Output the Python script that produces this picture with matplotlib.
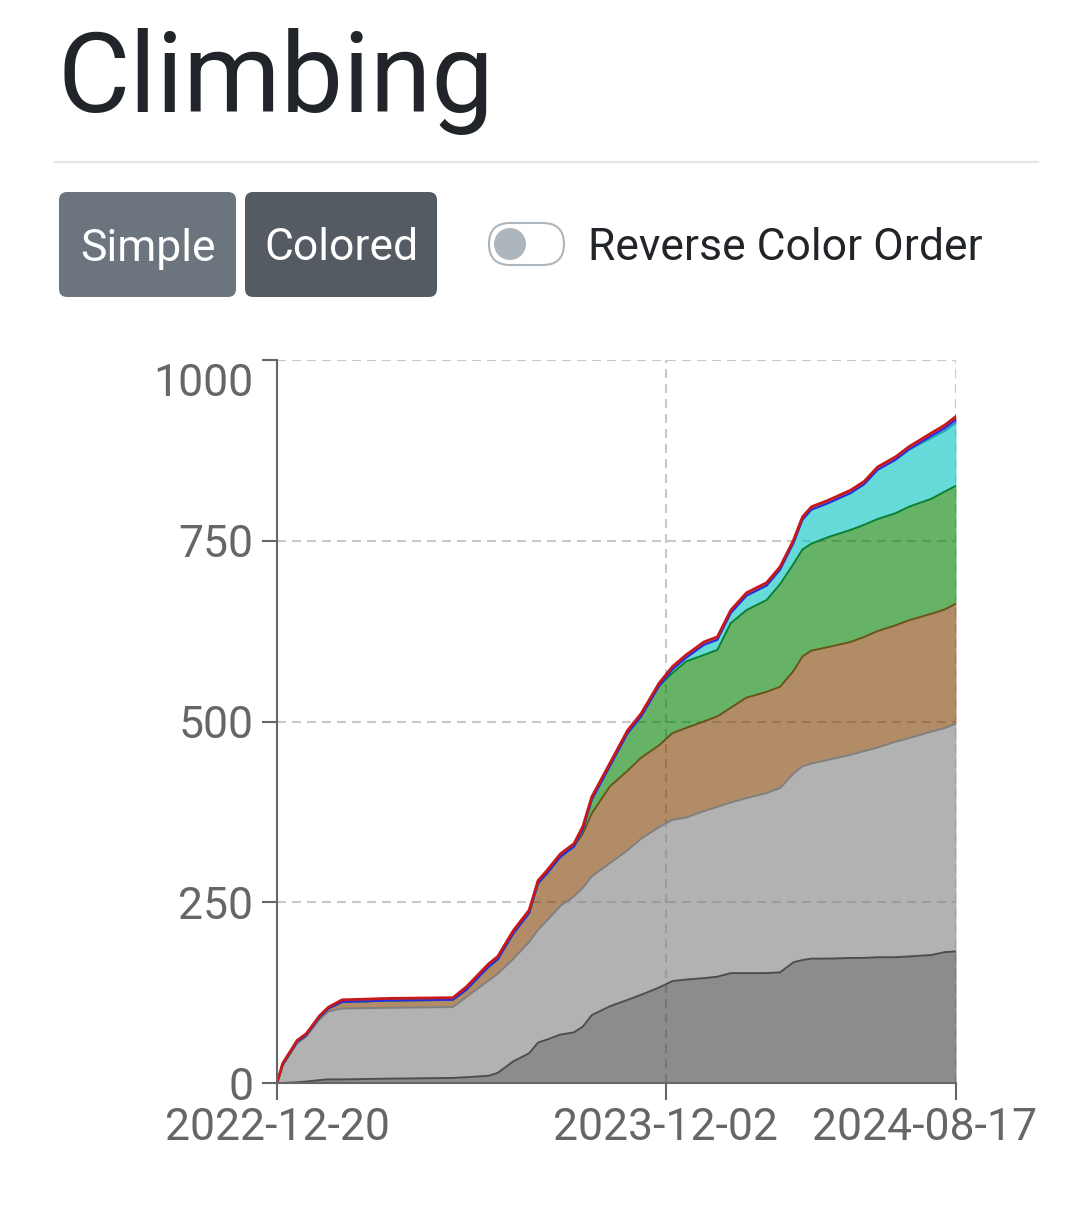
import numpy as np
import pandas as pd
import matplotlib
matplotlib.use("Agg")
import matplotlib.pyplot as plt
import matplotlib.dates as mdates
import matplotlib.transforms as mtransforms
from matplotlib.patches import FancyBboxPatch, Ellipse

plt.rcParams['font.family'] = ['Roboto', 'DejaVu Sans']

# ---------------- data (cumulative counts per layer) ----------------
start_date = "2022-12-20"
end_date = "2024-08-17"
day_offsets = [0, 5, 18, 26, 38, 46, 58, 100, 157, 169,
               189, 197, 211, 225, 233, 241, 253, 265, 273, 281,
               297, 313, 325, 341, 353, 365, 381, 393, 405, 419,
               437, 449, 461, 469, 477, 492, 512, 524, 536, 552,
               564, 584, 596, 606]
dark_gray = [0, 0, 1, 2, 4, 5, 5, 6, 7, 8,
             10, 14, 30, 41, 56, 60, 67, 70, 78, 94,
             106, 115, 122, 132, 141, 143, 145, 147, 152, 152,
             152, 153, 167, 170, 172, 172, 173, 173, 174, 174,
             175, 177, 181, 182]
light_gray = [0, 24, 54, 62, 84, 94, 98, 98, 98, 111,
              132, 137, 142, 154, 156, 165, 178, 188, 192, 192,
              198, 207, 216, 222, 223, 224, 231, 235, 236, 242,
              249, 255, 261, 268, 270, 275, 281, 286, 290, 298,
              302, 309, 310, 315]
brown = [0, 1, 2, 2, 3, 4, 9, 10, 10, 10,
         19, 20, 35, 40, 64, 65, 68, 69, 75, 87,
         106, 110, 112, 113, 120, 124, 124, 125, 131, 139,
         140, 140, 142, 152, 156, 156, 156, 158, 161, 161,
         163, 163, 164, 166]
green = [0, 0, 0, 0, 0, 0, 0, 0, 0, 0,
         0, 0, 0, 0, 0, 0, 0, 0, 6, 19,
         28, 52, 57, 82, 83, 92, 92, 92, 117, 121,
         127, 142, 148, 148, 148, 152, 155, 155, 155, 155,
         157, 159, 163, 163]
cyan = [0, 0, 0, 0, 0, 0, 0, 0, 0, 0,
        0, 0, 0, 0, 0, 0, 0, 0, 0, 0,
        0, 0, 0, 0, 5, 5, 14, 14, 14, 20,
        20, 20, 29, 41, 47, 47, 51, 56, 68, 74,
        79, 84, 84, 87]
blue = [0] * 41 + [3, 4, 5]
red = [0, 2, 2, 2, 2, 2, 3, 3, 3, 4,
       4, 4, 4, 4, 4, 4, 4, 4, 4, 4,
       4, 4, 4, 4, 4, 4, 4, 4, 4, 4,
       4, 4, 4, 4, 4, 4, 4, 4, 4, 4,
       4, 4, 4, 4]

x_tick_labels = ["2022-12-20", "2023-12-02", "2024-08-17"]
y_ticks = [0, 250, 500, 750, 1000]

title_text = "Climbing"
button_labels = ["Simple", "Colored"]
toggle_label = "Reverse Color Order"

# ---------------- figure ----------------
W, H = 1080, 1213
fig = plt.figure(figsize=(W / 100, H / 100), dpi=100)
fig.patch.set_facecolor('white')


def fx(px):
    return px / W


def fy(py):
    return 1 - py / H


# header
fig.text(fx(57), fy(112), title_text, fontsize=80, color='#212529',
         ha='left', va='baseline')
fig.add_artist(plt.Line2D([fx(55), fx(1038)], [fy(162), fy(162)],
                          color='#e3e5e8', lw=1.6, transform=fig.transFigure))

# buttons
btns = [(59, 236, '#6c757d'), (245, 437, '#545b62')]
for (x0, x1, col), lab in zip(btns, button_labels):
    p = FancyBboxPatch((fx(x0), fy(297)), fx(x1 - x0), fy(192) - fy(297),
                       boxstyle="round,pad=0,rounding_size=0.0075",
                       transform=fig.transFigure, facecolor=col, edgecolor='none',
                       mutation_aspect=W / H)
    fig.add_artist(p)
    fig.text(fx((x0 + x1) / 2), fy(244), lab, fontsize=32, color='white',
             ha='center', va='center_baseline')

# toggle switch
tog = FancyBboxPatch((fx(489), fy(265)), fx(75), fy(223) - fy(265),
                     boxstyle="round,pad=0,rounding_size=0.0195",
                     transform=fig.transFigure, facecolor='white',
                     edgecolor='#adb5bd', lw=1.5, mutation_aspect=W / H)
fig.add_artist(tog)
knob = Ellipse((fx(510), fy(244)), fx(32), fy(212) - fy(244),
               transform=fig.transFigure, facecolor='#adb5bd', edgecolor='none')
fig.add_artist(knob)
fig.text(fx(588), fy(244), toggle_label, fontsize=32, color='#212529',
         ha='left', va='center_baseline')

# ---------------- chart ----------------
ax = fig.add_axes([fx(277), fy(1083), fx(956) - fx(277), fy(360) - fy(1083)])
ax.set_facecolor('white')

t0 = pd.Timestamp(start_date)
dates = [t0 + pd.Timedelta(days=d) for d in day_offsets]
xnum = mdates.date2num(dates)

layers = [dark_gray, light_gray, brown, green, cyan, blue, red]
fill_rgb = [(64, 64, 64), (128, 128, 128), (128, 64, 0), (0, 128, 0),
            (0, 192, 192), (0, 0, 255), (255, 0, 0)]
line_cols = ['#4d4d4d', '#808080', '#6a5416', '#0a7f30',
             '#1bb0b0', '#2a2ae0', '#c81818']
line_w = [1.4, 1.4, 1.4, 1.4, 1.4, 1.4, 2.0]

base = np.zeros(len(day_offsets))
tops = []
for vals in layers:
    top = base + np.asarray(vals, dtype=float)
    tops.append((base.copy(), top))
    base = top

for (lo, hi), rgb in zip(tops, fill_rgb):
    ax.fill_between(xnum, lo, hi, color=tuple(c / 255 for c in rgb),
                    alpha=0.6, linewidth=0, zorder=2)
for (lo, hi), lc, lw in zip(tops, line_cols, line_w):
    ax.plot(xnum, hi, color=lc, lw=lw, zorder=3, solid_joinstyle='round')

xt = mdates.date2num([pd.Timestamp(s) for s in x_tick_labels])
ax.set_xlim(mdates.date2num(pd.Timestamp(start_date)), mdates.date2num(pd.Timestamp(end_date)))
ax.set_ylim(0, 1000)
ax.set_xticks(xt)
ax.set_xticklabels(x_tick_labels)
ax.set_yticks(y_ticks)
ax.set_yticklabels([str(v) for v in y_ticks])

ax.set_axisbelow(True)
ax.grid(True, color='#c8c8c8', linestyle=(0, (4.3, 2.9)), linewidth=1.5, zorder=0)
for s in ['top', 'right']:
    ax.spines[s].set_visible(False)
for s in ['left', 'bottom']:
    ax.spines[s].set_color('#666666')
    ax.spines[s].set_linewidth(1.5)
    ax.spines[s].set_zorder(4)

ax.tick_params(axis='y', length=11, width=1.5, color='#666666', labelsize=32,
               labelcolor='#666666', pad=6)
ax.tick_params(axis='x', length=12, width=1.5, color='#666666', labelsize=32,
               labelcolor='#666666', pad=5)

# edge labels kept inside the canvas, like the reference
top_lab = ax.get_yticklabels()[-1]
top_lab.set_transform(top_lab.get_transform() +
                      mtransforms.ScaledTranslation(0, -0.20, fig.dpi_scale_trans))
last_lab = ax.get_xticklabels()[-1]
last_lab.set_transform(last_lab.get_transform() +
                       mtransforms.ScaledTranslation(-0.31, 0, fig.dpi_scale_trans))

fig.savefig('out.png', dpi=100, facecolor='white')
